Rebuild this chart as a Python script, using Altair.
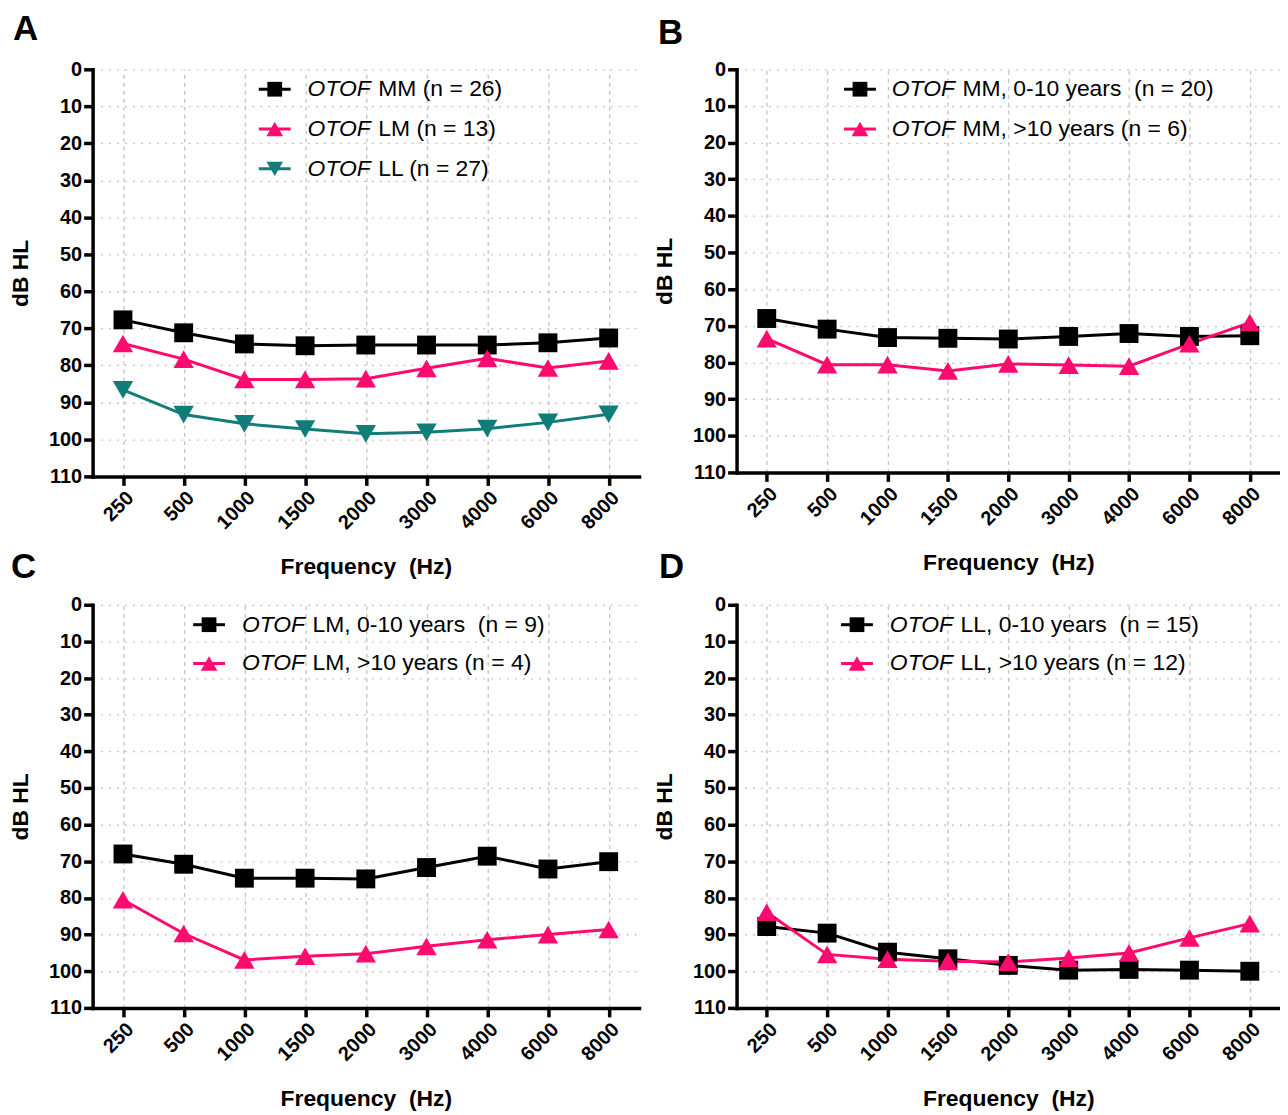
import altair as alt
import pandas as pd

FREQS = ["250", "500", "1000", "1500", "2000", "3000", "4000", "6000", "8000"]
Y_TICKS = [0, 10, 20, 30, 40, 50, 60, 70, 80, 90, 100, 110]

# Panel A
A_MM = [67.7, 71.2, 74.2, 74.7, 74.5, 74.5, 74.5, 73.9, 72.6]
A_LM = [74.1, 78.3, 83.8, 83.8, 83.6, 80.8, 78.1, 80.7, 78.8]
A_LL = [86.6, 93.3, 95.8, 97.2, 98.5, 98.1, 97.1, 95.4, 93.2]
# Panel B (OTOF MM by age)
B_YOUNG = [68.0, 70.9, 73.2, 73.4, 73.6, 72.9, 72.1, 72.9, 72.7]
B_OLD = [73.5, 80.6, 80.6, 82.3, 80.4, 80.7, 81.0, 74.9, 69.1]
# Panel C (OTOF LM by age)
C_YOUNG = [68.0, 70.8, 74.6, 74.6, 74.8, 71.7, 68.6, 72.1, 70.1]
C_OLD = [80.5, 89.7, 96.9, 95.9, 95.2, 93.2, 91.4, 90.0, 88.6]
# Panel D (OTOF LL by age)
D_YOUNG = [87.8, 89.6, 94.8, 96.6, 98.4, 99.7, 99.5, 99.7, 100.0]
D_OLD = [83.9, 95.4, 96.7, 97.3, 97.5, 96.4, 95.0, 90.9, 87.0]

LEG_A = ["MM (n = 26)", "LM (n = 13)", "LL (n = 27)"]
LEG_B = ["MM, 0-10 years\u00a0 (n = 20)", "MM, >10 years (n = 6)"]
LEG_C = ["LM, 0-10 years\u00a0 (n = 9)", "LM, >10 years (n = 4)"]
LEG_D = ["LL, 0-10 years\u00a0 (n = 15)", "LL, >10 years (n = 12)"]

BLACK = "#000000"
PINK = "#FF0A6E"
TEAL = "#107D79"
FONT = "Liberation Sans"

SHAPE_SIZE = {"square": 360, "triangle-up": 420, "triangle-down": 420}
LEG_SIZE = {"square": 220, "triangle-up": 280, "triangle-down": 280}


def panel(letter, series, legend_labels, width, height, leg_x, leg_tx, leg_y0, leg_dy,
          letter_x, letter_y):
    rows = []
    for key, vals, color, shape in series:
        for f, v in zip(FREQS, vals):
            rows.append({"freq": f, "db": v, "series": key, "sz": SHAPE_SIZE[shape]})
    df = pd.DataFrame(rows)
    keys = [s[0] for s in series]
    colors = [s[2] for s in series]
    shapes = [s[3] for s in series]

    x = alt.X("freq:O", sort=FREQS,
              scale=alt.Scale(type="point", padding=0.5),
              axis=alt.Axis(title="Frequency\u00a0 (Hz)", labelAngle=-45,
                            titleX=width / 2, titleY=91, titleBaseline="middle",
                            titleAlign="center",
                            grid=True, gridDash=[4, 4]))
    y = alt.Y("db:Q",
              scale=alt.Scale(domain=[0, 110], reverse=True, nice=False, zero=False),
              axis=alt.Axis(title="dB HL", values=Y_TICKS, grid=True, gridDash=[2, 6],
                            titleX=-72, titleY=height / 2, titleBaseline="middle",
                            titleAlign="center"))
    color = alt.Color("series:N", scale=alt.Scale(domain=keys, range=colors), legend=None)
    shape = alt.Shape("series:N", scale=alt.Scale(domain=keys, range=shapes), legend=None)

    base = alt.Chart(df)
    lines = base.mark_line(strokeWidth=3).encode(x=x, y=y, color=color, detail="series:N")
    pts = base.mark_point(filled=True, opacity=1).encode(
        x=x, y=y, color=color, shape=shape, size=alt.Size("sz:Q", scale=None))

    layers = [lines, pts]
    for i, ((key, vals, c, shp), lab) in enumerate(zip(series, legend_labels)):
        yy = leg_y0 + i * leg_dy
        one = pd.DataFrame({"gene": ["OTOF"], "label": [lab]})
        lc = alt.Chart(one)
        layers.append(lc.mark_rule(color=c, strokeWidth=3).encode(
            x=alt.value(leg_x - 16), x2=alt.value(leg_x + 16), y=alt.value(yy)))
        layers.append(lc.mark_point(shape=shp, filled=True, color=c, opacity=1,
                                    size=LEG_SIZE[shp]).encode(
            x=alt.value(leg_x), y=alt.value(yy)))
        layers.append(lc.mark_text(font=FONT, fontSize=23, fontStyle="italic",
                                   align="left", baseline="middle", color=BLACK).encode(
            text="gene:N", x=alt.value(leg_tx), y=alt.value(yy)))
        layers.append(lc.mark_text(font=FONT, fontSize=23, align="left",
                                   baseline="middle", color=BLACK).encode(
            text="label:N", x=alt.value(leg_tx + 71), y=alt.value(yy)))

    let = pd.DataFrame({"letter": [letter]})
    layers.append(alt.Chart(let).mark_text(font=FONT, fontSize=35, fontWeight="bold",
                                            align="left", baseline="alphabetic",
                                            color=BLACK).encode(
        text="letter:N", x=alt.value(letter_x), y=alt.value(letter_y)))

    return alt.layer(*layers).properties(width=width, height=height)


pA = panel("A", [("MM", A_MM, BLACK, "square"), ("LM", A_LM, PINK, "triangle-up"),
                 ("LL", A_LL, TEAL, "triangle-down")],
           LEG_A, 549, 409, 183, 216, 20, 40, -80, -29)
pB = panel("B", [("young", B_YOUNG, BLACK, "square"), ("old", B_OLD, PINK, "triangle-up")],
           LEG_B, 546, 405, 124, 156, 20, 40, -79, -25)
pC = panel("C", [("young", C_YOUNG, BLACK, "square"), ("old", C_OLD, PINK, "triangle-up")],
           LEG_C, 549, 405, 117, 150, 20, 39, -82, -27)
pD = panel("D", [("young", D_YOUNG, BLACK, "square"), ("old", D_OLD, PINK, "triangle-up")],
           LEG_D, 546, 405, 121, 154, 20, 39, -78, -27)

chart = alt.concat(pA, pB, pC, pD, columns=2, spacing={"row": 129, "column": 98},
                   bounds="flush").properties(
    padding={"left": 2, "top": 2, "right": 0, "bottom": 0},
    background="white",
).configure_view(stroke=None).configure_axis(
    domainColor=BLACK, domainWidth=3.5, domainCap="square",
    tickColor=BLACK, tickWidth=3.5, tickSize=9,
    labelFont=FONT, labelFontWeight="bold", labelFontSize=20, labelColor=BLACK,
    labelPadding=2,
    titleFont=FONT, titleFontWeight="bold", titleFontSize=23, titleColor=BLACK,
    gridColor="#c4c4c4", gridWidth=1.3,
)

chart.save("out.html", embed_options={"renderer": "svg", "actions": False})
